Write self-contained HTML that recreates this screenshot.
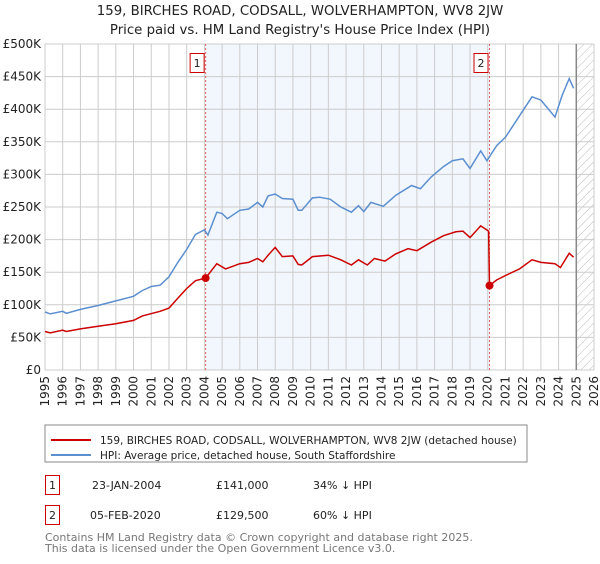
<!DOCTYPE html>
<html><head><meta charset="utf-8"><style>
body{margin:0;background:#fff;font-family:"DejaVu Sans","Liberation Sans",sans-serif;}
svg text{font-family:"DejaVu Sans","Liberation Sans",sans-serif;}
</style></head><body>
<svg id="c" width="600" height="560" xmlns="http://www.w3.org/2000/svg">
<defs><pattern id="hatch" width="6" height="6" patternUnits="userSpaceOnUse" patternTransform="rotate(45)"><line x1="0" y1="0" x2="0" y2="6" stroke="#bbb" stroke-width="1"/></pattern></defs>
<text x="300" y="15" text-anchor="middle" font-size="13.3" fill="#222">159, BIRCHES ROAD, CODSALL, WOLVERHAMPTON, WV8 2JW</text>
<text x="300" y="34" text-anchor="middle" font-size="13.3" fill="#222">Price paid vs. HM Land Registry's House Price Index (HPI)</text>
<g id="plot"></g>
<rect x="45" y="425" width="482" height="37" fill="#fff" stroke="#888"/>
<line x1="51" y1="440" x2="91" y2="440" stroke="#cc0000" stroke-width="2"/>
<text x="100" y="444" font-size="10.5" fill="#222">159, BIRCHES ROAD, CODSALL, WOLVERHAMPTON, WV8 2JW (detached house)</text>
<line x1="51" y1="455" x2="91" y2="455" stroke="#5b8fd0" stroke-width="2"/>
<text x="100" y="459" font-size="10.5" fill="#222">HPI: Average price, detached house, South Staffordshire</text>
<g>
<rect x="45.5" y="475.5" width="14" height="19" fill="#fff" stroke="#cc0000"/>
<text x="52.5" y="489" text-anchor="middle" font-size="11" fill="#222">1</text>
<text x="92" y="489" font-size="11" fill="#222">23-JAN-2004</text>
<text x="216" y="489" font-size="11" fill="#222">£141,000</text>
<text x="313" y="489" font-size="11" fill="#222">34% ↓ HPI</text>
</g>
<g>
<rect x="45.5" y="505.5" width="14" height="19" fill="#fff" stroke="#cc0000"/>
<text x="52.5" y="519" text-anchor="middle" font-size="11" fill="#222">2</text>
<text x="90" y="519" font-size="11" fill="#222">05-FEB-2020</text>
<text x="216" y="519" font-size="11" fill="#222">£129,500</text>
<text x="313" y="519" font-size="11" fill="#222">60% ↓ HPI</text>
</g>
<text x="45" y="541" font-size="11" fill="#777">Contains HM Land Registry data © Crown copyright and database right 2025.</text>
<text x="45" y="552" font-size="11" fill="#777">This data is licensed under the Open Government Licence v3.0.</text>
</svg>
<script>
const yTicks=[0,50,100,150,200,250,300,350,400,450,500];
const yTickLabels=["£0","£50K","£100K","£150K","£200K","£250K","£300K","£350K","£400K","£450K","£500K"];
const xYears=[1995,1996,1997,1998,1999,2000,2001,2002,2003,2004,2005,2006,2007,2008,2009,2010,2011,2012,2013,2014,2015,2016,2017,2018,2019,2020,2021,2022,2023,2024,2025,2026];
const hpiT=[1995,1995.3,1996,1996.2,1997,1998,1999,2000,2000.5,2001,2001.5,2002,2002.5,2003,2003.5,2004,2004.2,2004.7,2005,2005.3,2006,2006.5,2007,2007.3,2007.6,2008,2008.4,2009,2009.3,2009.5,2010.1,2010.5,2011.1,2011.7,2012.3,2012.7,2013,2013.4,2014.1,2014.8,2015.7,2016.2,2016.8,2017.5,2018,2018.6,2019,2019.6,2019.95,2020.5,2021,2021.8,2022.5,2023,2023.8,2024.2,2024.6,2024.85];
const hpiV=[89,86,90,87,93,99,106,113,122,128,130,143,165,185,208,215,207,242,240,232,245,247,257,250,267,270,263,262,245,245,264,265,262,250,242,252,243,257,251,268,283,278,296,312,321,324,309,336,321,344,357,390,419,414,388,421,447,432];
const ppT=[1995,1995.3,1996,1996.2,1997,1998,1999,2000,2000.5,2001.5,2002,2002.5,2003,2003.5,2004.07,2004.7,2005.2,2006,2006.5,2007,2007.3,2007.6,2008,2008.4,2009,2009.3,2009.5,2010.1,2011,2011.7,2012.3,2012.7,2013.2,2013.6,2014.2,2014.8,2015.5,2016,2016.8,2017.5,2018.2,2018.6,2019,2019.6,2020.05,2020.1,2020.5,2021,2021.8,2022.5,2023,2023.8,2024.1,2024.6,2024.85];
const ppV=[59,57,61,59,63,67,71,76,83,90,95,110,125,137,141,163,155,163,165,171,166,176,188,174,175,162,161,174,176,169,161,169,161,171,167,178,186,183,196,206,212,213,203,221,213,129.5,138,145,155,169,165,163,157,179,173];
const saleT=[2004.07,2020.1];
const saleV=[141,129.5];
const saleLabels=["1","2"];
const NS="http://www.w3.org/2000/svg";
const L=45,R=594,T=44,B=370;
const xs=y=>L+(y-1995)*(R-L)/31;
const ys=v=>B-v*(B-T)/500;
const g=document.getElementById('plot');
function mk(tag,attrs,parent){const e=document.createElementNS(NS,tag);for(const k in attrs)e.setAttribute(k,attrs[k]);(parent||g).appendChild(e);return e;}
const shade=mk('rect',{x:xs(saleT[0]),y:T,width:xs(saleT[1])-xs(saleT[0]),height:B-T,fill:'#eef3fc',opacity:0.75});


const hat=mk('rect',{x:xs(2025),y:T,width:R-xs(2025),height:B-T,fill:'url(#hatch)'});


yTicks.forEach((v,i)=>{
 const l=mk('line',{x1:L,x2:R,y1:ys(v),y2:ys(v),stroke:'#ccc','stroke-width':1});
 
 
 const t=mk('text',{x:L-4,y:ys(v)+4,'text-anchor':'end','font-size':12,fill:'#222'});
 t.textContent=yTickLabels[i];
 
 
});
xYears.forEach(yr=>{
 const l=mk('line',{x1:xs(yr),x2:xs(yr),y1:T,y2:B,stroke:'#ccc','stroke-width':1});
 
 
 const t=mk('text',{x:0,y:0,'text-anchor':'end','font-size':12,fill:'#222',transform:`translate(${xs(yr)+4},${B+6}) rotate(-90)`});
 t.textContent=yr;
 
 
});
const nl=mk('line',{x1:xs(2025),x2:xs(2025),y1:T,y2:B,stroke:'#888','stroke-width':1.5});


saleT.forEach((t,i)=>{
 const l=mk('line',{x1:xs(t),x2:xs(t),y1:T,y2:B,stroke:'#e06060','stroke-width':1,'stroke-dasharray':'2,2'});
 
 
 const r=mk('rect',{x:xs(t)-15.5,y:53.5,width:14,height:19,fill:'#fff',stroke:'#cc0000'});
 
 
 const tx=mk('text',{x:xs(t)-8.5,y:67,'text-anchor':'middle','font-size':11,fill:'#222'});
 tx.textContent=saleLabels[i];
 
 
});
const pts=(T2,V)=>T2.map((t,i)=>xs(t).toFixed(1)+','+ys(V[i]).toFixed(1)).join(' ');
const hp=mk('polyline',{points:pts(hpiT,hpiV),fill:'none',stroke:'#5b8fd0','stroke-width':1.5});


const pp=mk('polyline',{points:pts(ppT,ppV),fill:'none',stroke:'#cc0000','stroke-width':1.5});


saleT.forEach((t,i)=>{
 const c=mk('circle',{cx:xs(t),cy:ys(saleV[i]),r:4,fill:'#cc0000'});
 
 
});
</script>
</body></html>
